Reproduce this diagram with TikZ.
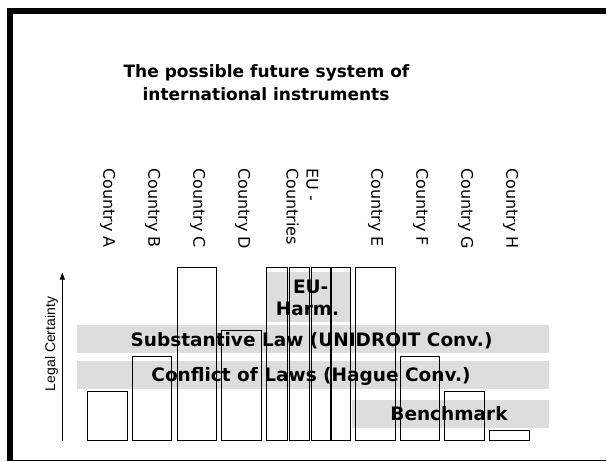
\documentclass[tikz,border=0pt]{standalone}
\usepackage{fontspec}
\setmainfont{DejaVu Sans}
\newfontfamily\arialfont{Liberation Sans}
\usetikzlibrary{arrows.meta}
\definecolor{bandgray}{RGB}{221,221,221}
\begin{document}
\begin{tikzpicture}[x=1pt,y=-1pt,
  band/.style={fill=bandgray, draw=none},
  bar/.style={draw=black, line width=0.9pt},
  frame/.style={fill=black, draw=none},
  lbl/.style={font=\fontsize{16}{20}\selectfont, rotate=-90, anchor=base west, inner sep=0pt},
  bandtxt/.style={font=\fontsize{18.5}{22}\selectfont\bfseries, anchor=base, inner sep=0pt},
  titletxt/.style={font=\fontsize{17}{22}\selectfont\bfseries, anchor=base, inner sep=0pt}]
\useasboundingbox (0,0) rectangle (607,461);
% frame
\fill[frame] (7,8) rectangle (13,461);
\fill[frame] (7,8) rectangle (606,14);
\fill[frame] (7,459.5) rectangle (606,461);
% title
\node[titletxt] (t1) at (266.5,77.3) {The possible future system of};
\node[titletxt] (t2) at (266,100) {international instruments};
% country labels
\node[lbl] (lA) at (103.3,168) {Country A};
\node[lbl] (lB) at (148.3,168) {Country B};
\node[lbl] (lC) at (193.3,168) {Country C};
\node[lbl] (lD) at (238.3,168) {Country D};
\node[lbl] (lEU2) at (286.7,168) {Countries};
\node[lbl] (lEU1) at (306.7,168) {EU -};
\node[lbl] (lE) at (371.3,168) {Country E};
\node[lbl] (lF) at (416.3,168) {Country F};
\node[lbl] (lG) at (461.3,168) {Country G};
\node[lbl] (lH) at (506.3,168) {Country H};
% bands
\fill[band] (266,272.3) rectangle (351,321.7);
\fill[band] (76.7,325) rectangle (549,352.7);
\fill[band] (76.7,361) rectangle (549,388.7);
\fill[band] (351.7,400) rectangle (549,427.7);
% band texts
\node[bandtxt] (eu1) at (310.7,293) {EU-};
\node[bandtxt] (eu2) at (307.5,315) {Harm.};
\node[bandtxt] (subst) at (311.5,346.7) {Substantive Law (UNIDROIT Conv.)};
\node[bandtxt] (confl) at (311,381.5) {Conflict of Laws (Hague Conv.)};
\node[bandtxt] (bench) at (449,420.5) {Benchmark};
% bars
\draw[bar] (87.3,391) rectangle (127.3,440.7);
\draw[bar] (132,356.3) rectangle (171.7,440.7);
\draw[bar] (177,267) rectangle (216.3,440.7);
\draw[bar] (221.7,330.7) rectangle (261,440.7);
\draw[bar] (266.3,267) rectangle (287.5,440.7);
\draw[bar] (289.2,267) rectangle (309.4,440.7);
\draw[bar] (311,267) rectangle (330.1,440.7);
\draw[bar] (331.7,267) rectangle (350.7,440.7);
\draw[bar] (355.3,267) rectangle (395,440.7);
\draw[bar] (400,356.3) rectangle (439.7,440.7);
\draw[bar] (444.7,391) rectangle (484.3,440.7);
\draw[bar] (489.3,430.7) rectangle (529.3,440.7);
% axis
\coordinate (axbot) at (62.3,440.7);
\coordinate (axtop) at (62.3,272.5);
\draw[line width=1pt, -{Triangle[width=5pt,length=7pt]}] (axbot) -- (axtop);
\node[font=\arialfont\fontsize{14}{16}\selectfont, rotate=90, anchor=base, inner sep=0pt] (legal) at (55,344) {Legal Certainty};
\end{tikzpicture}
\end{document}
